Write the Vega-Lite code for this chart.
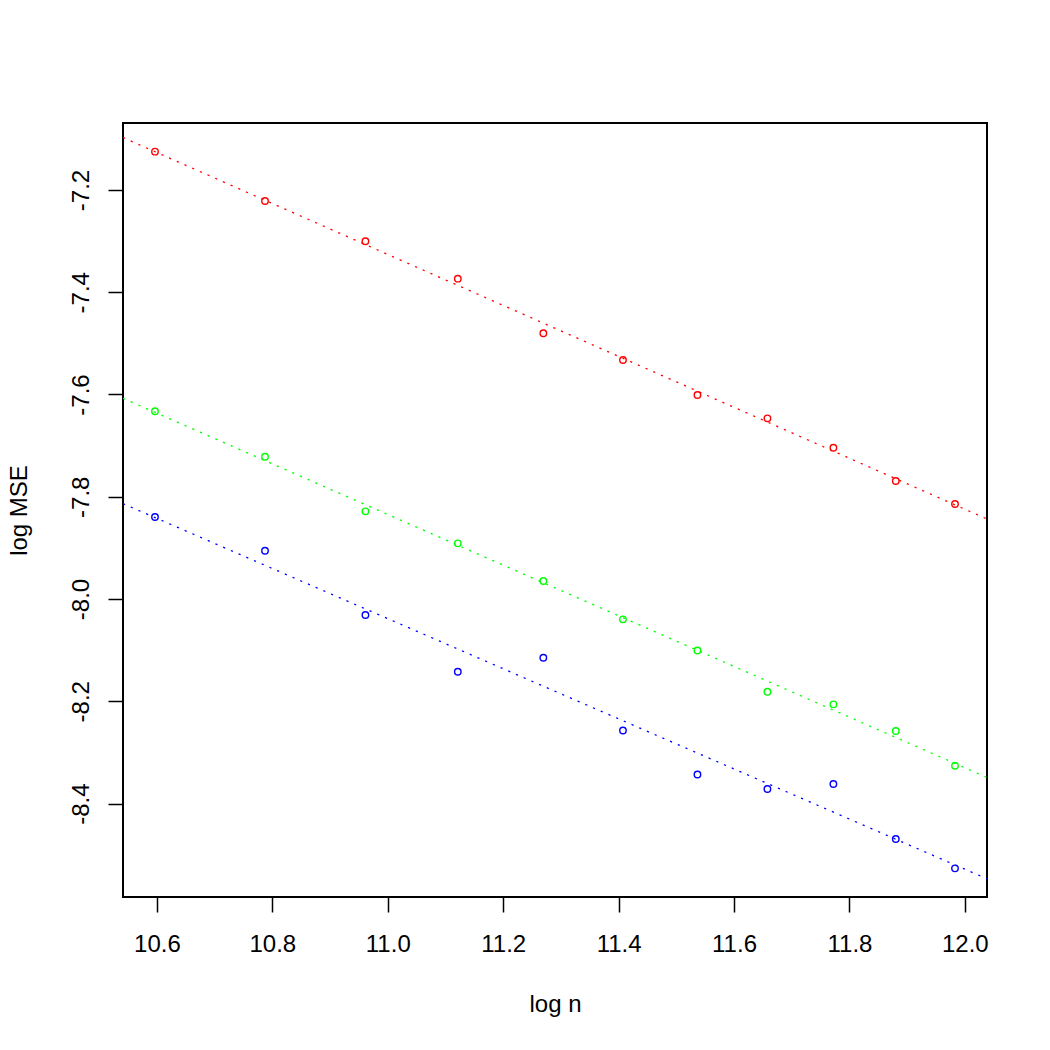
{
  "$schema": "https://vega.github.io/schema/vega-lite/v6.json",
  "width": 864,
  "height": 774,
  "autosize": {"type": "none"},
  "padding": {"left": 123, "top": 123, "right": 63, "bottom": 153},
  "background": "white",
  "config": {
    "view": {"stroke": "black", "strokeWidth": 2},
    "font": "Liberation Sans"
  },
  "datasets": {
    "points": [
      {"logn": 10.59663, "logmse": -7.1251, "series": "red"},
      {"logn": 10.78726, "logmse": -7.2215, "series": "red"},
      {"logn": 10.96128, "logmse": -7.3003, "series": "red"},
      {"logn": 11.12136, "logmse": -7.3735, "series": "red"},
      {"logn": 11.26958, "logmse": -7.4803, "series": "red"},
      {"logn": 11.40756, "logmse": -7.5325, "series": "red"},
      {"logn": 11.53664, "logmse": -7.6010, "series": "red"},
      {"logn": 11.65790, "logmse": -7.6466, "series": "red"},
      {"logn": 11.77220, "logmse": -7.7041, "series": "red"},
      {"logn": 11.88034, "logmse": -7.7692, "series": "red"},
      {"logn": 11.98293, "logmse": -7.8142, "series": "red"},
      {"logn": 10.59663, "logmse": -7.6329, "series": "green"},
      {"logn": 10.78726, "logmse": -7.7217, "series": "green"},
      {"logn": 10.96128, "logmse": -7.8285, "series": "green"},
      {"logn": 11.12136, "logmse": -7.8911, "series": "green"},
      {"logn": 11.26958, "logmse": -7.9648, "series": "green"},
      {"logn": 11.40756, "logmse": -8.0397, "series": "green"},
      {"logn": 11.53664, "logmse": -8.1007, "series": "green"},
      {"logn": 11.65790, "logmse": -8.1813, "series": "green"},
      {"logn": 11.77220, "logmse": -8.2060, "series": "green"},
      {"logn": 11.88034, "logmse": -8.2582, "series": "green"},
      {"logn": 11.98293, "logmse": -8.3261, "series": "green"},
      {"logn": 10.59663, "logmse": -7.8396, "series": "blue"},
      {"logn": 10.78726, "logmse": -7.9055, "series": "blue"},
      {"logn": 10.96128, "logmse": -8.0313, "series": "blue"},
      {"logn": 11.12136, "logmse": -8.1422, "series": "blue"},
      {"logn": 11.26958, "logmse": -8.1148, "series": "blue"},
      {"logn": 11.40756, "logmse": -8.2572, "series": "blue"},
      {"logn": 11.53664, "logmse": -8.3432, "series": "blue"},
      {"logn": 11.65790, "logmse": -8.3716, "series": "blue"},
      {"logn": 11.77220, "logmse": -8.3618, "series": "blue"},
      {"logn": 11.88034, "logmse": -8.4694, "series": "blue"},
      {"logn": 11.98293, "logmse": -8.5267, "series": "blue"}
    ],
    "fits": [
      {"logn": 10.54118, "logmse": -7.0975, "series": "red"},
      {"logn": 12.03838, "logmse": -7.8435, "series": "red"},
      {"logn": 10.54118, "logmse": -7.6074, "series": "green"},
      {"logn": 12.03838, "logmse": -8.3490, "series": "green"},
      {"logn": 10.54118, "logmse": -7.8135, "series": "blue"},
      {"logn": 12.03838, "logmse": -8.5472, "series": "blue"}
    ]
  },
  "encoding": {
    "x": {
      "field": "logn",
      "type": "quantitative",
      "scale": {"domain": [10.54118, 12.03838], "nice": false, "zero": false},
      "axis": {
        "title": "log n",
        "values": [10.6, 10.8, 11.0, 11.2, 11.4, 11.6, 11.8, 12.0],
        "domain": false,
        "grid": false,
        "tickSize": 15,
        "tickColor": "black",
        "tickWidth": 1.5,
        "labelFont": "Liberation Sans",
        "labelFontSize": 24,
        "labelColor": "black",
        "labelPadding": 39.7,
        "labelBaseline": "alphabetic",
        "labelExpr": "format(datum.value, '.1f')",
        "labelFlush": false,
        "labelOverlap": false,
        "titleFont": "Liberation Sans",
        "titleFontSize": 24,
        "titleFontWeight": "normal",
        "titleColor": "black",
        "titleX": 432,
        "titleY": 114.7,
        "titleBaseline": "alphabetic",
        "titleAlign": "center"
      }
    },
    "y": {
      "field": "logmse",
      "type": "quantitative",
      "scale": {"domain": [-8.58276, -7.06904], "nice": false, "zero": false},
      "axis": {
        "title": "log MSE",
        "values": [-8.4, -8.2, -8.0, -7.8, -7.6, -7.4, -7.2],
        "domain": false,
        "grid": false,
        "tickSize": 15,
        "tickColor": "black",
        "tickWidth": 1.5,
        "labelFont": "Liberation Sans",
        "labelFontSize": 24,
        "labelColor": "black",
        "labelAngle": 270,
        "labelAlign": "center",
        "labelBaseline": "alphabetic",
        "labelPadding": 19.7,
        "labelExpr": "(datum.value < 0 ? '-' : '') + format(abs(datum.value), '.1f')",
        "labelFlush": false,
        "labelOverlap": false,
        "titleFont": "Liberation Sans",
        "titleFontSize": 24,
        "titleFontWeight": "normal",
        "titleColor": "black",
        "titleAngle": 270,
        "titleX": -97,
        "titleY": 387,
        "titleBaseline": "alphabetic",
        "titleAlign": "center"
      }
    },
    "color": {
      "field": "series",
      "type": "nominal",
      "scale": {"domain": ["red", "green", "blue"], "range": ["#FF0000", "#00FF00", "#0000FF"]},
      "legend": null
    }
  },
  "layer": [
    {
      "data": {"name": "fits"},
      "mark": {"type": "line", "strokeDash": [2.2, 6.2], "strokeWidth": 1.3, "clip": true},
      "encoding": {"detail": {"field": "series", "type": "nominal"}}
    },
    {
      "data": {"name": "points"},
      "mark": {"type": "point", "shape": "circle", "filled": false, "size": 42, "strokeWidth": 1.4, "opacity": 1}
    }
  ]
}
